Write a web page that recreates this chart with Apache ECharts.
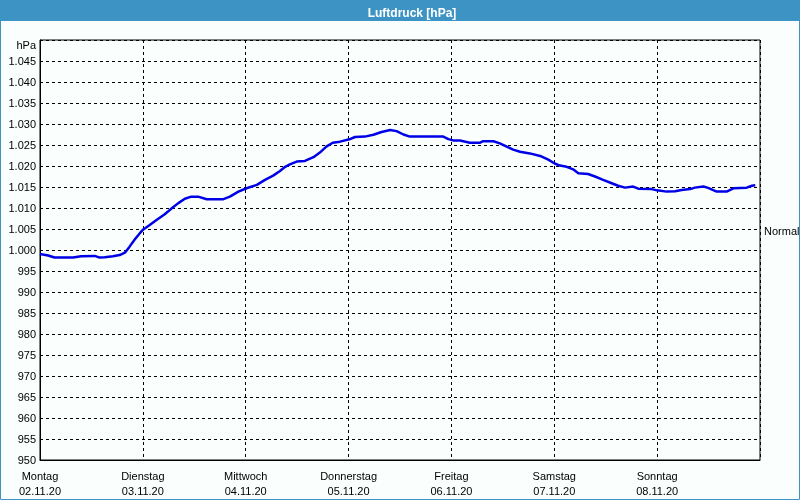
<!DOCTYPE html>
<html>
<head>
<meta charset="utf-8">
<script src="https://cdn.jsdelivr.net/npm/echarts@6/dist/echarts.min.js"></script>
<style>
html,body{margin:0;padding:0;background:#fafffd;}
#chart{width:800px;height:500px;}
</style>
</head>
<body>
<div id="chart"></div>
<script>
// Hours since Monday 02.11.20 00:00
const hours = [0, 1.9, 3.4, 7.7, 9.6, 12.8, 13.9, 15.1, 17.0, 18.6, 19.9, 20.9, 22.1, 23.3, 24.1, 25.6, 27.1, 29.1, 30.6, 32.2, 33.8, 35.3, 36.9, 38.9, 42.8, 44.3, 46.3, 48.2, 50.6, 52.5, 54.4, 56.0, 57.2, 58.3, 59.9, 61.8, 63.8, 65.3, 66.8, 68.3, 70.0, 72.2, 73.5, 75.8, 77.8, 79.7, 81.7, 83.2, 84.8, 86.3, 94.1, 95.3, 96.4, 98.0, 100.3, 102.7, 103.4, 105.8, 107.3, 108.9, 110.4, 112.0, 114.3, 116.7, 118.6, 120.1, 121.3, 122.9, 124.4, 125.6, 127.9, 129.5, 131.4, 133.4, 134.9, 136.5, 138.4, 139.6, 142.7, 144.0, 146.2, 148.2, 149.7, 151.7, 152.8, 154.8, 155.9, 157.9, 160.2, 161.8, 164.9, 166.1, 166.9];
const pressure = [999.05, 998.7, 998.2, 998.2, 998.5, 998.6, 998.2, 998.3, 998.5, 998.8, 999.45, 1000.8, 1002.5, 1004.0, 1004.9, 1005.95, 1007.1, 1008.5, 1009.8, 1011.1, 1012.2, 1012.7, 1012.7, 1012.1, 1012.1, 1012.7, 1013.9, 1014.7, 1015.5, 1016.7, 1017.7, 1018.8, 1019.8, 1020.4, 1021.05, 1021.2, 1022.1, 1023.2, 1024.6, 1025.55, 1025.8, 1026.35, 1026.9, 1027.0, 1027.45, 1028.1, 1028.55, 1028.3, 1027.5, 1027.0, 1027.0, 1026.4, 1026.1, 1026.05, 1025.55, 1025.55, 1025.9, 1025.9, 1025.4, 1024.6, 1023.9, 1023.4, 1023.0, 1022.4, 1021.5, 1020.6, 1020.1, 1019.8, 1019.2, 1018.3, 1018.1, 1017.5, 1016.7, 1015.9, 1015.3, 1014.85, 1015.1, 1014.6, 1014.5, 1014.2, 1013.9, 1014.0, 1014.3, 1014.5, 1014.85, 1015.1, 1014.8, 1013.9, 1013.9, 1014.7, 1014.85, 1015.3, 1015.4];
const dayNames = ['Montag', 'Dienstag', 'Mittwoch', 'Donnerstag', 'Freitag', 'Samstag', 'Sonntag'];
const dayDates = ['02.11.20', '03.11.20', '04.11.20', '05.11.20', '06.11.20', '07.11.20', '08.11.20'];
const normalValue = 1004.3;
const titleText = 'Luftdruck [hPa]';
const unitLabel = 'hPa';

const FONT = '"Liberation Sans", Arial, sans-serif';
const chart = echarts.init(document.getElementById('chart'), null, {renderer: 'canvas'});

function fmtY(v) {
  if (v === 1050) return '{u|' + unitLabel + '}';
  if (v >= 1000) {
    return Math.floor(v / 1000) + '.' + String(v % 1000).padStart(3, '0');
  }
  return String(v);
}

chart.setOption({
  animation: false,
  backgroundColor: '#fafffd',
  graphic: [
    {type: 'rect', shape: {x: 0, y: 0, width: 800, height: 21}, style: {fill: '#3d94c4'}, z: -1},
    {type: 'rect', shape: {x: 0.5, y: 0.5, width: 799, height: 499}, style: {fill: 'none', stroke: '#3d94c4', lineWidth: 1}, z: -1}
  ],
  title: {
    text: titleText,
    left: 407,
    top: 3,
    textAlign: 'center',
    textStyle: {color: '#ffffff', fontFamily: FONT, fontSize: 12, fontWeight: 'bold'}
  },
  grid: {left: 40, right: 40, top: 40, bottom: 40, show: true, borderColor: '#000', borderWidth: 1, backgroundColor: 'transparent'},
  xAxis: {
    type: 'value',
    min: 0,
    max: 168,
    interval: 24,
    axisLine: {show: true, lineStyle: {color: '#000', width: 1}},
    axisTick: {show: false},
    splitLine: {show: true, lineStyle: {color: '#000', type: [3, 3], width: 1}},
    axisLabel: {
      color: '#000',
      fontFamily: FONT,
      fontSize: 11,
      lineHeight: 15,
      margin: 9,
      showMaxLabel: false,
      formatter: function (v) {
        const i = Math.round(v / 24);
        if (i < 0 || i >= dayNames.length) return '';
        return dayNames[i] + '\n' + dayDates[i];
      }
    }
  },
  yAxis: {
    type: 'value',
    min: 950,
    max: 1050,
    interval: 5,
    axisLine: {show: true, lineStyle: {color: '#000', width: 1}},
    axisTick: {show: false},
    splitLine: {show: true, lineStyle: {color: '#000', type: [3, 3], width: 1}},
    axisLabel: {
      color: '#000',
      fontFamily: FONT,
      fontSize: 11,
      margin: 4,
      padding: [2, 0, 0, 0],
      formatter: fmtY,
      rich: {u: {fontFamily: FONT, fontSize: 11, color: '#000', padding: [10, 0, 0, 0]}}
    }
  },
  series: [{
    type: 'line',
    data: hours.map((h, i) => [h, pressure[i]]),
    showSymbol: false,
    symbol: 'none',
    lineStyle: {color: '#0000e6', width: 2.5},
    markLine: {
      silent: true,
      symbol: 'none',
      lineStyle: {color: 'transparent', width: 0},
      label: {show: true, position: 'end', formatter: 'Normal', color: '#000', fontFamily: FONT, fontSize: 11, distance: 4, padding: [3, 0, 0, 0]},
      data: [{yAxis: normalValue}]
    }
  }]
});
</script>
</body>
</html>
